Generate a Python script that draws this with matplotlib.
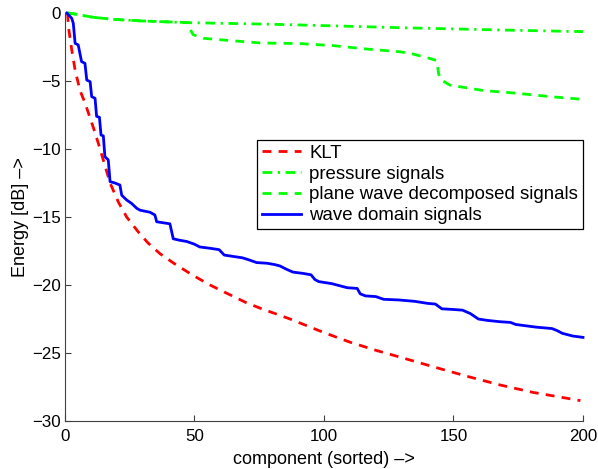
import matplotlib
matplotlib.use("Agg")
import matplotlib.pyplot as plt

plt.rcParams['font.family'] = ['Liberation Sans', 'DejaVu Sans']

# values
klt_x = [1, 1.3, 2.6, 3.9, 5.8, 7.7, 10.9, 12.9, 15.4, 17.4, 20.6, 23.8, 28.3, 32, 36.7,
         42, 49.5, 56, 62.4, 70, 75.3, 86.9, 100, 110, 120, 129.3, 142, 155, 168, 180.8, 190, 199]
klt_y = [0, -1.0, -2.7, -4.2, -5.7, -6.6, -8.4, -9.6, -11.2, -12.5, -13.9, -15.0, -16.1, -16.9, -17.7,
         -18.4, -19.3, -20.0, -20.6, -21.3, -21.7, -22.5, -23.5, -24.2, -24.8, -25.3, -26.0, -26.7, -27.35, -27.9, -28.2, -28.5]

pres_x = [1, 3, 5.8, 11, 18.7, 30.2, 47, 75.3, 90.7, 129.3, 168, 200]
pres_y = [0, -0.05, -0.15, -0.32, -0.47, -0.59, -0.71, -0.81, -0.88, -1.08, -1.25, -1.37]

plane_x = [1, 3, 5.8, 11, 18.7, 30.2, 47.5, 48.3, 49.5, 53.4, 62, 75.3, 90.7, 103.6, 116.5,
           129.3, 134, 137, 141, 143.5, 144.3, 145, 148.6, 155, 161.5, 174.4, 187.3, 200]
plane_y = [0, -0.05, -0.15, -0.32, -0.47, -0.59, -0.7, -1.2, -1.6, -1.86, -2.0, -2.2, -2.25, -2.4, -2.65,
           -2.85, -3.0, -3.15, -3.35, -3.5, -4.5, -4.9, -5.3, -5.5, -5.7, -5.9, -6.15, -6.35]

wave_x = [0.7, 2.6, 3.2, 3.9, 5.1, 6.4, 7.7, 8.4, 9.7, 10.3, 11.6, 12.2, 13.3, 13.9, 14.8, 15.4, 16.7,
          17.4, 19.3, 21.2, 21.9, 23.8, 25.7, 27.7, 29, 32.8, 34.7, 35.4, 40.5, 41.8,
          44, 47, 50, 52, 56, 59.5, 61.5, 65, 68.5, 71, 74, 78, 81, 83, 85.6, 88, 92, 95, 96.5,
          98, 103, 106, 109, 112.8, 114, 116, 120, 123, 129, 135, 140, 143, 145.5, 150, 153.5,
          156.5, 159.6, 163, 168, 172, 174, 178, 182, 188, 190, 192, 196, 200]
wave_y = [0, -0.39, -0.76, -2.23, -2.35, -3.58, -3.7, -4.93, -5.05, -6.15, -6.27, -7.6, -7.67, -8.97, -9.04, -10.56, -10.8,
          -12.4, -12.5, -12.65, -13.4, -13.75, -14.0, -14.36, -14.5, -14.65, -14.85, -15.35, -15.5, -16.6,
          -16.7, -16.8, -17.0, -17.2, -17.3, -17.4, -17.8, -17.9, -18.0, -18.15, -18.35, -18.4, -18.5, -18.6, -18.85,
          -19.05, -19.15, -19.25, -19.6, -19.75, -19.9, -20.05, -20.2, -20.25, -20.65, -20.8, -20.85, -21.05, -21.1,
          -21.2, -21.35, -21.4, -21.75, -21.8, -21.85, -22.1, -22.5, -22.6, -22.7, -22.75, -22.9, -23.0, -23.1,
          -23.2, -23.35, -23.55, -23.75, -23.85]

fig = plt.figure(figsize=(5.98, 4.69), dpi=100)
ax = fig.add_axes([0.1087, 0.1023, 0.8662, 0.87])

ax.plot(klt_x, klt_y, color='#ff0000', lw=2, dashes=(3.2, 2.6), label='KLT', clip_on=False)
ax.plot(pres_x, pres_y, color='#00ff00', lw=2, dashes=(3.5, 2.0, 0.8, 2.0), label='pressure signals', clip_on=False)
ax.plot(plane_x, plane_y, color='#00ff00', lw=2, dashes=(3.2, 2.6), label='plane wave decomposed signals', clip_on=False)
ax.plot(wave_x, wave_y, color='#0000ff', lw=2, label='wave domain signals', clip_on=False)

ax.set_xlim(0, 200)
ax.set_ylim(-30, 0)
ax.set_xticks([0, 50, 100, 150, 200])
ax.set_yticks([-30, -25, -20, -15, -10, -5, 0])
ax.tick_params(direction='in', length=4, width=0.8, labelsize=12.2, color='#404040')
ax.tick_params(axis='x', pad=6)
ax.tick_params(axis='y', pad=3)
for s in ['top', 'right']:
    ax.spines[s].set_visible(False)
for s in ['left', 'bottom']:
    ax.spines[s].set_color('#404040')
    ax.spines[s].set_linewidth(0.8)

ax.set_xlabel('component (sorted) \u2013>', fontsize=13, labelpad=5)
ax.set_ylabel('Energy [dB] \u2013>', fontsize=13, labelpad=2)

leg = ax.legend(loc='upper right', bbox_to_anchor=(1.0, 0.688), fontsize=13.4,
                fancybox=False, framealpha=1, edgecolor='black', handlelength=2.1,
                handletextpad=0.45, labelspacing=0.2, borderpad=0.25, borderaxespad=0)
leg.get_frame().set_linewidth(0.9)

fig.savefig('out.png', dpi=100)
